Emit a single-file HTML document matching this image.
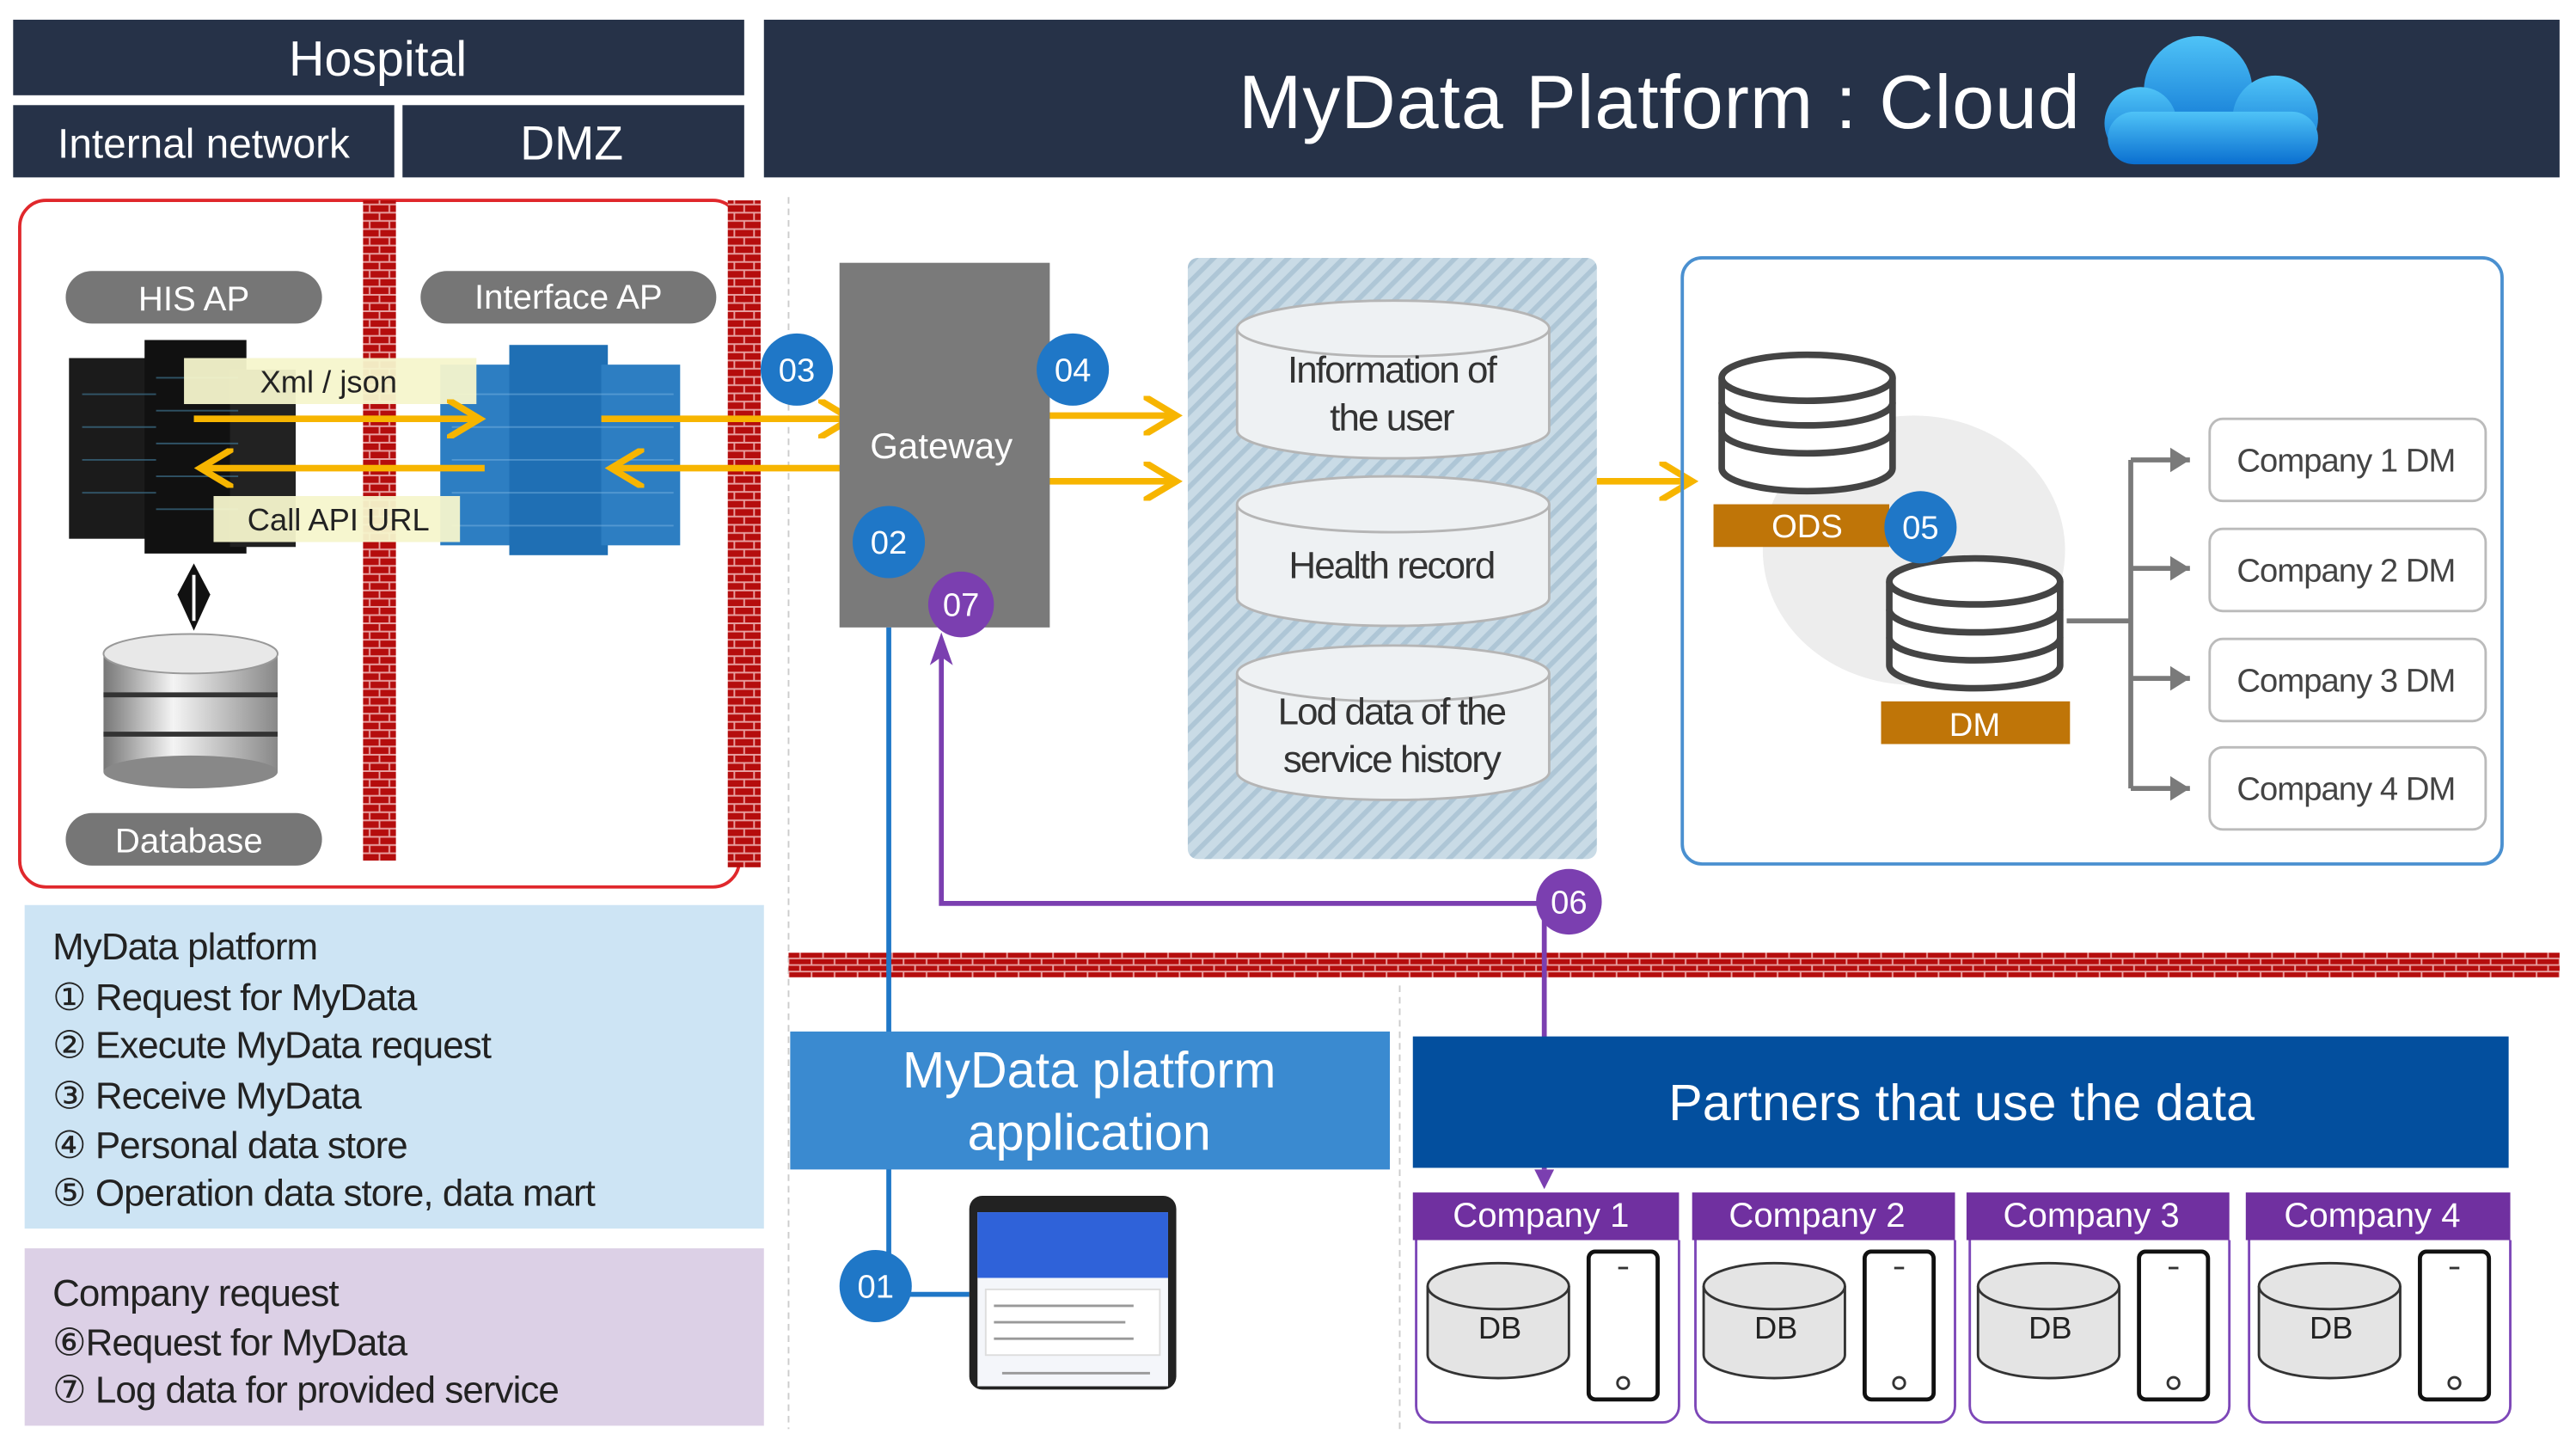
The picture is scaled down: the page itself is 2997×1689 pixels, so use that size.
<!DOCTYPE html>
<html><head><meta charset="utf-8"><style>
html,body{margin:0;padding:0;background:#fff;width:2997px;height:1689px;overflow:hidden}
svg{display:block}
text{font-family:"Liberation Sans","DejaVu Sans",sans-serif}
</style></head><body>
<svg width="2997" height="1689" viewBox="0 0 1568 884" preserveAspectRatio="none" xmlns="http://www.w3.org/2000/svg">
<defs>
<pattern id="brick" width="12" height="10" patternUnits="userSpaceOnUse">
<rect width="12" height="10" fill="#b50d0d"/>
<path d="M0 4.5H12M0 9.5H12M3 0V4.5M9 5V10" stroke="#e8a0a0" stroke-width="1"/>
</pattern>
<pattern id="hbrick" width="14" height="8" patternUnits="userSpaceOnUse">
<rect width="14" height="8" fill="#b50d0d"/>
<path d="M0 3.5H14M0 7.5H14M4 0V3.5M11 4V8" stroke="#e8a0a0" stroke-width="1"/>
</pattern>
<pattern id="hatch" width="8" height="8" patternUnits="userSpaceOnUse" patternTransform="rotate(45)">
<rect width="8" height="8" fill="#c9dbe6"/>
<rect width="3" height="8" fill="#aec6d6"/>
</pattern>
<linearGradient id="cloud" x1="0" y1="0" x2="0" y2="1"><stop offset="0" stop-color="#4fc3f7"/><stop offset="1" stop-color="#0a6fd0"/></linearGradient>
<linearGradient id="silver" x1="0" y1="0" x2="1" y2="0"><stop offset="0" stop-color="#777"/><stop offset="0.4" stop-color="#f4f4f4"/><stop offset="1" stop-color="#888"/></linearGradient>
<marker id="ya" markerWidth="6" markerHeight="6" refX="5" refY="3" orient="auto" markerUnits="strokeWidth"><path d="M0 0L5 3L0 6" fill="none" stroke="#f7b500" stroke-width="1"/></marker>
<marker id="ga" markerWidth="5" markerHeight="5" refX="4" refY="2.5" orient="auto" markerUnits="strokeWidth"><path d="M0 0L4 2.5L0 5z" fill="#7a7a7a"/></marker>
</defs>

<!-- headers -->
<rect x="8" y="12" width="445" height="46" fill="#263248"/>
<text x="230" y="46" fill="#fff" font-size="30" text-anchor="middle">Hospital</text>
<rect x="8" y="64" width="232" height="44" fill="#263248"/>
<text x="124" y="96" fill="#fff" font-size="25" text-anchor="middle">Internal network</text>
<rect x="245" y="64" width="208" height="44" fill="#263248"/>
<text x="348" y="97" fill="#fff" font-size="29" text-anchor="middle">DMZ</text>
<rect x="465" y="12" width="1093" height="96" fill="#263248"/>
<text x="1010" y="78" fill="#fff" font-size="46" text-anchor="middle" textLength="512">MyData Platform : Cloud</text>
<g fill="url(#cloud)">
<circle cx="1338" cy="55" r="33"/><circle cx="1303" cy="75" r="22"/><circle cx="1385" cy="72" r="26"/>
<rect x="1283" y="68" width="128" height="32" rx="16"/>
</g>

<!-- hospital region -->
<rect x="12" y="122" width="438" height="418" rx="16" fill="none" stroke="#e0282c" stroke-width="2"/>
<line x1="480" y1="120" x2="480" y2="870" stroke="#ccc" stroke-dasharray="4 3"/>
<line x1="852" y1="600" x2="852" y2="870" stroke="#ccc" stroke-dasharray="4 3"/>
<rect x="221" y="122" width="20" height="402" fill="url(#brick)"/>
<rect x="443" y="122" width="20" height="406" fill="url(#brick)"/>
<rect x="480" y="580" width="1078" height="15" fill="url(#hbrick)"/>

<rect x="40" y="165" width="156" height="32" rx="16" fill="#767676"/>
<text x="118" y="189" fill="#fff" font-size="21" text-anchor="middle">HIS AP</text>
<rect x="256" y="165" width="180" height="32" rx="16" fill="#767676"/>
<text x="346" y="188" fill="#fff" font-size="21" text-anchor="middle">Interface AP</text>
<rect x="40" y="495" width="156" height="32" rx="16" fill="#767676"/>
<text x="115" y="519" fill="#fff" font-size="21" text-anchor="middle">Database</text>

<!-- servers -->
<rect x="42" y="218" width="60" height="110" fill="#1b1b1b"/>
<rect x="88" y="207" width="62" height="130" fill="#111"/>
<rect x="140" y="225" width="40" height="108" fill="#222"/>
<g stroke="#3d6f8a" stroke-width="1" opacity="0.7"><path d="M50 240H95M50 260H95M50 280H95M50 300H95M95 230H145M95 250H145M95 270H145M95 290H145M95 310H145"/></g>
<rect x="268" y="222" width="44" height="110" fill="#2d7ec2"/>
<rect x="310" y="210" width="60" height="128" fill="#1f6fb4"/>
<rect x="366" y="222" width="48" height="110" fill="#2d7ec2"/>
<g stroke="#7ab3e0" stroke-width="1" opacity="0.5"><path d="M275 240H410M275 260H410M275 280H410M275 300H410M275 320H410"/></g>

<rect x="112" y="218" width="178" height="28" fill="#f6f6cc" opacity="0.95"/>
<text x="200" y="239" font-size="19" text-anchor="middle" fill="#222">Xml / json</text>
<rect x="130" y="302" width="150" height="28" fill="#f6f6cc" opacity="0.95"/>
<text x="206" y="323" font-size="19" text-anchor="middle" fill="#222">Call API URL</text>

<g stroke="#f7b500" stroke-width="4" fill="none" marker-end="url(#ya)">
<line x1="118" y1="255" x2="292" y2="255"/>
<line x1="295" y1="285" x2="122" y2="285"/>
<line x1="366" y1="255" x2="518" y2="255"/>
<line x1="520" y1="285" x2="372" y2="285"/>
<line x1="625" y1="253" x2="716" y2="253"/>
<line x1="625" y1="293" x2="716" y2="293"/>
<line x1="970" y1="293" x2="1030" y2="293"/>
</g>

<!-- db arrow + db -->
<path d="M118 343L128 362L118 384L108 362Z" fill="#111"/>
<line x1="118" y1="350" x2="118" y2="378" stroke="#fff" stroke-width="2"/>
<g>
<rect x="63" y="398" width="106" height="72" fill="url(#silver)"/>
<ellipse cx="116" cy="470" rx="53" ry="10" fill="#888"/>
<ellipse cx="116" cy="398" rx="53" ry="12" fill="#e8e8e8" stroke="#999"/>
<line x1="63" y1="423" x2="169" y2="423" stroke="#333" stroke-width="3"/>
<line x1="63" y1="447" x2="169" y2="447" stroke="#333" stroke-width="3"/>
</g>

<!-- gateway -->
<rect x="511" y="160" width="128" height="222" fill="#7a7a7a"/>
<text x="573" y="279" fill="#fff" font-size="22" text-anchor="middle">Gateway</text>

<!-- lines -->
<polyline points="541,382 541,788 590,788" fill="none" stroke="#1f77c7" stroke-width="3"/>
<polyline points="940,550 573,550 573,395" fill="none" stroke="#7b3fb0" stroke-width="3"/>
<path d="M573 385L566 405L573 400L580 405Z" fill="#7b3fb0"/>
<line x1="940" y1="550" x2="940" y2="712" stroke="#7b3fb0" stroke-width="3"/>
<path d="M934 712L946 712L940 724Z" fill="#7b3fb0"/>

<!-- hatched -->
<rect x="723" y="157" width="249" height="366" rx="6" fill="url(#hatch)"/>
<g fill="#eef1f3" stroke="#b5b5b5" stroke-width="1.5">
<path d="M753 200V262A95 17 0 0 0 943 262V200"/><ellipse cx="848" cy="200" rx="95" ry="17"/>
<path d="M753 307V364A95 17 0 0 0 943 364V307"/><ellipse cx="848" cy="307" rx="95" ry="17"/>
<path d="M753 410V470A95 17 0 0 0 943 470V410"/><ellipse cx="848" cy="410" rx="95" ry="17"/>
</g>
<g font-size="23" fill="#333" text-anchor="middle" letter-spacing="-1">
<text x="847" y="233">Information  of</text><text x="847" y="262">the user</text>
<text x="847" y="352">Health record</text>
<text x="847" y="441">Lod data of the</text><text x="847" y="470">service history</text>
</g>

<!-- right box -->
<rect x="1024" y="157" width="499" height="369" rx="12" fill="none" stroke="#4a90d0" stroke-width="2"/>
<ellipse cx="1165" cy="335" rx="92" ry="82" fill="#ededed"/>
<g fill="#fff" stroke="#444" stroke-width="4">
<path d="M1048 230V285A52 14 0 0 0 1152 285V230"/>
<path d="M1048 262A52 14 0 0 0 1152 262M1048 245A52 14 0 0 0 1152 245" fill="none"/>
<ellipse cx="1100" cy="230" rx="52" ry="14"/>
<path d="M1150 354V405A52 14 0 0 0 1254 405V354"/>
<path d="M1150 388A52 14 0 0 0 1254 388M1150 371A52 14 0 0 0 1254 371" fill="none"/>
<ellipse cx="1202" cy="354" rx="52" ry="14"/>
</g>
<rect x="1043" y="307" width="107" height="26" fill="#bf7508"/>
<text x="1100" y="327" fill="#fff" font-size="20" text-anchor="middle">ODS</text>
<rect x="1145" y="427" width="115" height="26" fill="#bf7508"/>
<text x="1202" y="448" fill="#fff" font-size="20" text-anchor="middle">DM</text>
<g stroke="#7a7a7a" stroke-width="3" fill="none">
<line x1="1258" y1="378" x2="1297" y2="378"/>
<line x1="1297" y1="280" x2="1297" y2="480"/>
</g>
<g stroke="#7a7a7a" stroke-width="3" marker-end="url(#ga)">
<line x1="1297" y1="280" x2="1333" y2="280"/>
<line x1="1297" y1="346" x2="1333" y2="346"/>
<line x1="1297" y1="413" x2="1333" y2="413"/>
<line x1="1297" y1="480" x2="1333" y2="480"/>
</g>
<g fill="#fff" stroke="#bbb" stroke-width="1.5">
<rect x="1345" y="255" width="168" height="50" rx="8"/>
<rect x="1345" y="322" width="168" height="50" rx="8"/>
<rect x="1345" y="389" width="168" height="50" rx="8"/>
<rect x="1345" y="455" width="168" height="50" rx="8"/>
</g>
<g font-size="20" fill="#444" text-anchor="middle" letter-spacing="-0.5">
<text x="1428" y="287">Company  1 DM</text>
<text x="1428" y="354">Company  2 DM</text>
<text x="1428" y="421">Company  3 DM</text>
<text x="1428" y="487">Company  4 DM</text>
</g>

<!-- badges -->
<g font-size="20" fill="#fff" text-anchor="middle">
<circle cx="485" cy="225" r="22" fill="#1f77c7"/><text x="485" y="232">03</text>
<circle cx="653" cy="225" r="22" fill="#1f77c7"/><text x="653" y="232">04</text>
<circle cx="541" cy="330" r="22" fill="#1f77c7"/><text x="541" y="337">02</text>
<circle cx="1169" cy="321" r="22" fill="#1f77c7"/><text x="1169" y="328">05</text>
<circle cx="533" cy="783" r="22" fill="#1f77c7"/><text x="533" y="790">01</text>
<circle cx="585" cy="368" r="20" fill="#7b3fb0"/><text x="585" y="375">07</text>
<circle cx="955" cy="549" r="20" fill="#7b3fb0"/><text x="955" y="556">06</text>
</g>

<!-- legends -->
<rect x="15" y="551" width="450" height="197" fill="#cde4f4"/>
<g font-size="23" fill="#222" letter-spacing="-0.5">
<text x="32" y="584">MyData platform</text>
<text x="32" y="615">① Request for MyData</text>
<text x="32" y="644">② Execute MyData request</text>
<text x="32" y="675">③ Receive MyData</text>
<text x="32" y="705">④ Personal data store</text>
<text x="32" y="734">⑤ Operation data store, data mart</text>
</g>
<rect x="15" y="760" width="450" height="108" fill="#dcd0e6"/>
<g font-size="23" fill="#222" letter-spacing="-0.5">
<text x="32" y="795">Company  request</text>
<text x="32" y="825">⑥Request for MyData</text>
<text x="32" y="854">⑦ Log data for provided service</text>
</g>

<!-- app box -->
<rect x="481" y="628" width="365" height="84" fill="#3a8ad0"/>
<text x="663" y="662" fill="#fff" font-size="31" text-anchor="middle">MyData platform</text>
<text x="663" y="700" fill="#fff" font-size="31" text-anchor="middle">application</text>

<!-- phone -->
<rect x="590" y="728" width="126" height="118" rx="8" fill="#222"/>
<rect x="595" y="738" width="116" height="106" fill="#f4f6fa"/>
<rect x="595" y="738" width="116" height="40" fill="#2f62d9"/>
<rect x="600" y="785" width="106" height="40" fill="#fff" stroke="#ddd"/>
<g stroke="#999" stroke-width="1.5"><path d="M605 795H690M605 805H685M605 815H690M610 836H700"/></g>

<!-- partners -->
<rect x="860" y="631" width="667" height="80" fill="#034f9e"/>
<text x="1194" y="682" fill="#fff" font-size="31" text-anchor="middle">Partners that use the data</text>

<g id="c">
</g>
<g font-size="21" fill="#fff" text-anchor="middle">
<rect x="860" y="726" width="162" height="29" fill="#7030a0"/><text x="938" y="747">Company  1</text>
<rect x="1030" y="726" width="160" height="29" fill="#7030a0"/><text x="1106" y="747">Company  2</text>
<rect x="1197" y="726" width="160" height="29" fill="#7030a0"/><text x="1273" y="747">Company  3</text>
<rect x="1367" y="726" width="161" height="29" fill="#7030a0"/><text x="1444" y="747">Company  4</text>
</g>
<g fill="none" stroke="#7d47b8" stroke-width="1.5">
<path d="M862 755V856A10 10 0 0 0 872 866H1012A10 10 0 0 0 1022 856V755"/>
<path d="M1032 755V856A10 10 0 0 0 1042 866H1180A10 10 0 0 0 1190 856V755"/>
<path d="M1199 755V856A10 10 0 0 0 1209 866H1347A10 10 0 0 0 1357 856V755"/>
<path d="M1369 755V856A10 10 0 0 0 1379 866H1518A10 10 0 0 0 1528 856V755"/>
</g>
<g fill="#e4e4e4" stroke="#333" stroke-width="1.5">
<path d="M869 783V825A43 14 0 0 0 955 825V783"/><ellipse cx="912" cy="783" rx="43" ry="14"/>
<path d="M1037 783V825A43 14 0 0 0 1123 825V783"/><ellipse cx="1080" cy="783" rx="43" ry="14"/>
<path d="M1204 783V825A43 14 0 0 0 1290 825V783"/><ellipse cx="1247" cy="783" rx="43" ry="14"/>
<path d="M1375 783V825A43 14 0 0 0 1461 825V783"/><ellipse cx="1418" cy="783" rx="43" ry="14"/>
</g>
<g font-size="19" fill="#222" text-anchor="middle">
<text x="913" y="815">DB</text><text x="1081" y="815">DB</text><text x="1248" y="815">DB</text><text x="1419" y="815">DB</text>
</g>
<g fill="#fff" stroke="#111" stroke-width="2.5">
<rect x="967" y="762" width="42" height="90" rx="4"/>
<rect x="1135" y="762" width="42" height="90" rx="4"/>
<rect x="1302" y="762" width="42" height="90" rx="4"/>
<rect x="1473" y="762" width="42" height="90" rx="4"/>
</g>
<g fill="none" stroke="#333" stroke-width="1.5">
<circle cx="988" cy="842" r="3.5"/><path d="M985 772H991"/>
<circle cx="1156" cy="842" r="3.5"/><path d="M1153 772H1159"/>
<circle cx="1323" cy="842" r="3.5"/><path d="M1320 772H1326"/>
<circle cx="1494" cy="842" r="3.5"/><path d="M1491 772H1497"/>
</g>
</svg>
</body></html>
